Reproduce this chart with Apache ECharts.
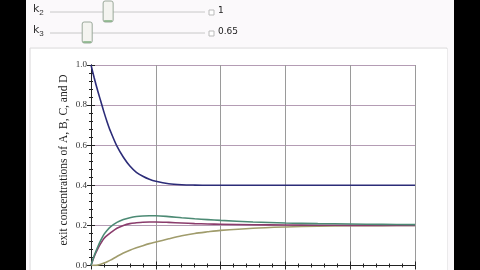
<!DOCTYPE html>
<html>
<head>
<meta charset="utf-8">
<script src="https://cdn.jsdelivr.net/npm/echarts@6/dist/echarts.min.js"></script>
<style>
html,body{margin:0;padding:0;background:#000;}
#c{width:480px;height:270px;}
</style>
</head>
<body>
<div id="c"></div>
<script>
// data
const times   = [0,0.05,0.1,0.15,0.2,0.25,0.3,0.4,0.5,0.6,0.7,0.8,0.9,1.0,1.2,1.4,1.6,1.8,2.0,2.5,3.0,3.5,4.0,4.5,5.0];
const seriesA = [1.0,0.935,0.875,0.82,0.765,0.715,0.67,0.595,0.54,0.496,0.465,0.445,0.43,0.42,0.408,0.403,0.401,0.4,0.4,0.4,0.4,0.4,0.4,0.4,0.4];
const seriesB = [0,0.05,0.09,0.125,0.155,0.176,0.193,0.215,0.229,0.238,0.244,0.247,0.248,0.248,0.244,0.238,0.233,0.229,0.225,0.217,0.212,0.209,0.207,0.205,0.204];
const seriesC = [0,0.045,0.08,0.11,0.135,0.15,0.163,0.186,0.2,0.209,0.213,0.216,0.217,0.217,0.215,0.212,0.209,0.207,0.206,0.203,0.202,0.201,0.2,0.2,0.2];
const seriesD = [0,0.0005,0.002,0.006,0.012,0.019,0.027,0.045,0.062,0.076,0.088,0.099,0.109,0.117,0.133,0.148,0.16,0.168,0.175,0.186,0.192,0.196,0.198,0.199,0.2];
const yTickLabels = ['0.0','0.2','0.4','0.6','0.8','1.0'];
const yAxisTitle = 'exit concentrations of A, B, C, and D';
const sliders = [{name:'2', value:'1', frac:0.375},{name:'3', value:'0.65', frac:0.24}];

const pair = arr => times.map((t,i)=>[t,arr[i]]);
const chart = echarts.init(document.getElementById('c'), null, {renderer:'canvas'});

const trackX0 = 50, trackX1 = 205;
const graphics = [
  {type:'rect', shape:{x:26,y:0,width:428,height:270}, style:{fill:'#fbf9fb'}, z:-10},
  {type:'line', shape:{x1:30,y1:48,x2:447,y2:48}, style:{stroke:'#dcdcdc',lineWidth:1}, z:-9},
  {type:'line', shape:{x1:30,y1:48,x2:30,y2:270}, style:{stroke:'#dcdcdc',lineWidth:1}, z:-9},
  {type:'line', shape:{x1:447,y1:48,x2:447,y2:270}, style:{stroke:'#dcdcdc',lineWidth:1}, z:-9},
  {type:'rect', shape:{x:31,y:49,width:416,height:221}, style:{fill:'#ffffff'}, z:-9}
];
sliders.forEach((s,i)=>{
  const y = 12 + i*21;
  const tx = trackX0 + (trackX1-trackX0)*s.frac;
  graphics.push(
    {type:'text', left:33, top:y-8, style:{text:'k{s|'+s.name+'}', fill:'#333', font:'11px "DejaVu Sans"', rich:{s:{fontSize:8, verticalAlign:'bottom', padding:[6,0,0,0], fill:'#333'}}}},
    {type:'line', shape:{x1:trackX0,y1:y,x2:trackX1,y2:y}, style:{stroke:'#c8c8c8',lineWidth:1}},
    {type:'rect', shape:{x:tx-5,y:y-11,width:10,height:21,r:2}, style:{fill:'#f4f4f0',stroke:'#9aa89a',lineWidth:1}},
    {type:'line', shape:{x1:tx-4,y1:y+9,x2:tx+4,y2:y+9}, style:{stroke:'#7fae7f',lineWidth:1.5}},
    {type:'rect', shape:{x:209,y:y-2,width:5,height:5}, style:{fill:'#fff',stroke:'#bbb',lineWidth:1}},
    {type:'text', left:218, top:y-6, style:{text:s.value, fill:'#222', font:'9px "DejaVu Sans"'}}
  );
});
graphics.push({type:'text', x:64, y:160, rotation:Math.PI/2,
  style:{x:0, y:0, text:yAxisTitle, fill:'#222', font:'11.5px "Liberation Serif"', align:'center', verticalAlign:'middle'}});

chart.setOption({
  backgroundColor:'transparent',
  animation:false,
  graphic: graphics,
  grid:{left:91, right:65, top:65, bottom:4, show:false},
  xAxis:[
    {type:'value', min:0, max:5, interval:1, position:'bottom',
     axisLine:{show:true, lineStyle:{color:'#222',width:1}},
     axisTick:{show:true, inside:true, length:4, lineStyle:{color:'#222'}},
     minorTick:{show:true, splitNumber:5, length:2, lineStyle:{color:'#222'}},
     axisLabel:{show:false},
     splitLine:{show:true, lineStyle:{color:'#9a9a9a', width:1}}},
    {type:'value', min:0, max:5, interval:1, position:'top',
     axisLine:{show:true, lineStyle:{color:'#222',width:1}},
     axisTick:{show:true, inside:true, length:4, lineStyle:{color:'#222'}},
     minorTick:{show:true, splitNumber:5, length:2, lineStyle:{color:'#222'}},
     axisLabel:{show:false}, splitLine:{show:false}}
  ],
  yAxis:[
    {type:'value', min:0, max:1, interval:0.2, position:'left',
     axisLine:{show:true, lineStyle:{color:'#222',width:1}},
     axisTick:{show:true, inside:true, length:4, lineStyle:{color:'#222'}},
     minorTick:{show:true, splitNumber:5, length:2, lineStyle:{color:'#222'}},
     axisLabel:{show:true, margin:4, color:'#333', fontFamily:'Liberation Serif', fontSize:9,
       formatter:(v)=>yTickLabels[Math.round(v/0.2)]},
     splitLine:{show:true, lineStyle:{color:'#b49cb4', width:1}}},
    {type:'value', min:0, max:1, interval:0.2, position:'right',
     axisLine:{show:true, lineStyle:{color:'#222',width:1}},
     axisTick:{show:true, inside:true, length:4, lineStyle:{color:'#222'}},
     minorTick:{show:true, splitNumber:5, length:2, lineStyle:{color:'#222'}},
     axisLabel:{show:false}, splitLine:{show:false}}
  ],
  series:[
    {type:'line', data:pair(seriesD), smooth:0.3, symbol:'none', lineStyle:{color:'#a09c6c', width:1.6}, z:3},
    {type:'line', data:pair(seriesC), smooth:0.3, symbol:'none', lineStyle:{color:'#8a3c6c', width:1.6}, z:4},
    {type:'line', data:pair(seriesB), smooth:0.3, symbol:'none', lineStyle:{color:'#4c8a74', width:1.6}, z:5},
    {type:'line', data:pair(seriesA), smooth:0.3, symbol:'none', lineStyle:{color:'#2c2c78', width:1.6}, z:6}
  ]
});
</script>
</body>
</html>
